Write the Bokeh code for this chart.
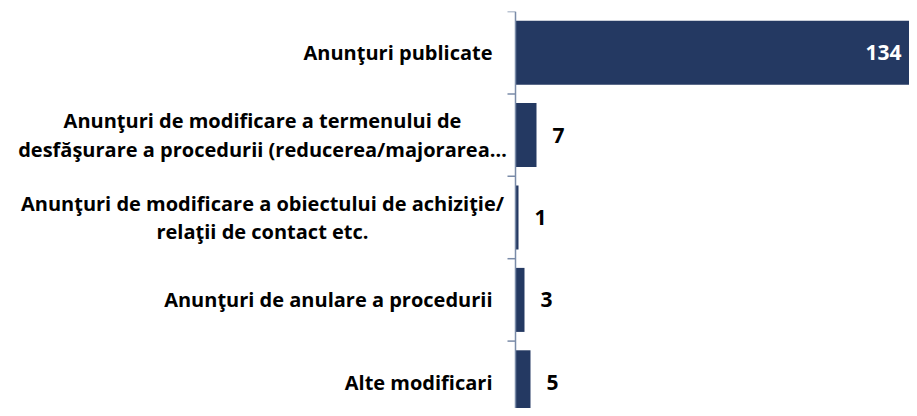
from bokeh.plotting import figure
from bokeh.models import ColumnDataSource, Range1d
from bokeh.core.properties import value
from bokeh.embed import file_html
from bokeh.resources import INLINE

# ---- data ----
categories = [
    "Anunţuri publicate",
    "Anunţuri de modificare a termenului de\ndesfăşurare a procedurii (reducerea/majorarea…",
    "Anunţuri de modificare a obiectului de achiziţie/\nrelaţii de contact etc.",
    "Anunţuri de anulare a procedurii",
    "Alte modificari",
]
values = [134, 7, 1, 3, 5]

# ---- layout constants (pixels) ----
W, H = 909, 408
PX_PER_UNIT = 3.0
AXIS_PX = 515          # position of the value axis from figure left
BAND_PX = 82.4         # height of one category band
TOP_PX = 11            # top border
TICK_PX = 8

BAR_COLOR = "#243962"
AXIS_COLOR = "#7A8BA8"
FONT = "Open Sans"

x_start = -AXIS_PX / PX_PER_UNIT
x_end = (W - AXIS_PX) / PX_PER_UNIT
y_bottom = (H - TOP_PX) / BAND_PX

p = figure(width=W, height=H, output_backend="svg", toolbar_location=None,
           x_range=Range1d(x_start, x_end), y_range=Range1d(y_bottom, 0),
           x_axis_type=None, y_axis_type=None,
           min_border_left=0, min_border_right=0, min_border_top=TOP_PX,
           min_border_bottom=0, outline_line_color=None)
p.grid.visible = False
p.background_fill_color = "white"
p.border_fill_color = "white"

n = len(categories)
ycent = [i + 0.5 for i in range(n)]
max_v = max(values)

src = ColumnDataSource(dict(y=ycent, v=values, cat=categories))
p.hbar(y="y", left=0, right="v", height=0.777, source=src,
       fill_color=BAR_COLOR, line_color=None)

# axis line and boundary ticks
p.segment(x0=[0], y0=[0], x1=[0], y1=[n + 1], line_color=AXIS_COLOR, line_width=1.5)
bounds = list(range(n + 1))
p.segment(x0=[-TICK_PX / PX_PER_UNIT] * len(bounds), y0=bounds,
          x1=[0] * len(bounds), y1=bounds, line_color=AXIS_COLOR, line_width=1.5)

# category labels
multi = ["\n" in c for c in categories]
lab = ColumnDataSource(dict(
    x=[0] * n, y=ycent, t=categories,
    xo=[-253 if m else -23 for m in multi],
    al=["center" if m else "right" for m in multi],
))
p.text(x="x", y="y", text="t", source=lab, x_offset="xo", text_align="al",
       text_baseline="middle", text_font=value(FONT), text_font_style="bold",
       text_font_size="20px", text_line_height=1.05, text_color="black")

# value labels
inside = [v > 0.5 * max_v for v in values]
vl = ColumnDataSource(dict(
    x=values, y=ycent, t=[str(v) for v in values],
    xo=[-16 if i else 16 for i in inside],
    al=["right" if i else "left" for i in inside],
    c=["white" if i else "black" for i in inside],
))
p.text(x="x", y="y", text="t", source=vl, x_offset="xo", text_align="al",
       text_baseline="middle", text_font=value(FONT), text_font_style="bold",
       text_font_size="21px", text_color="c")

open("out.html", "w").write(file_html(p, INLINE))
